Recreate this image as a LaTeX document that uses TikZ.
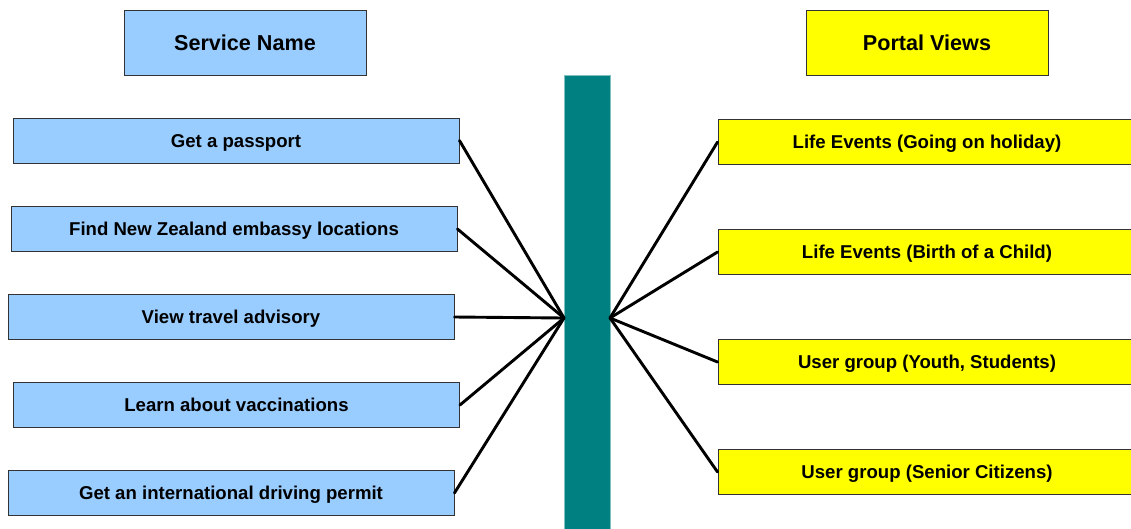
\documentclass[tikz,border=0pt]{standalone}
\usepackage{fontspec}
\setmainfont{Liberation Sans}
\definecolor{svcblue}{HTML}{99CCFF}
\definecolor{portyel}{HTML}{FFFF00}
\definecolor{barteal}{HTML}{008080}
\definecolor{bargl}{HTML}{80C0C0}
\begin{document}
\begin{tikzpicture}[x=1pt,y=-1pt,
  box/.style={draw=black!80,line width=0.9pt,inner sep=0pt,minimum height=45pt,text height=13.3pt,text depth=0pt,font=\fontsize{18.6}{20}\selectfont\bfseries},
  svc/.style={box,fill=svcblue,minimum width=446pt},
  port/.style={box,fill=portyel,minimum width=418pt},
  head/.style={draw=black!80,line width=0.9pt,inner sep=0pt,minimum width=242pt,minimum height=65pt,text height=15.5pt,text depth=0pt,font=\fontsize{21.6}{24}\selectfont\bfseries},
  link/.style={line width=2.9pt,black,line cap=round}]
\useasboundingbox (0,0) rectangle (1131,528);
\node[head,fill=svcblue] (hs) at (245,42.5) {Service Name};
\node[head,fill=portyel] (hp) at (927,42.5) {Portal Views};
\fill[barteal] (564,75) rectangle (610,530);
\draw[bargl,line width=0.6pt] (564,530) -- (564,75) -- (610,75) -- (610,530);
\coordinate (hubL) at (564,318);
\coordinate (hubR) at (610,318);
\node[svc] (s1) at (236,140.5) {Get a passport};
\node[svc] (s2) at (234,229) {Find New Zealand embassy locations};
\node[svc] (s3) at (231,317) {View travel advisory};
\node[svc] (s4) at (236.5,405) {Learn about vaccinations};
\node[svc] (s5) at (231,493) {Get an international driving permit};
\node[port] (p1) at (927,142) {Life Events (Going on holiday)};
\node[port] (p2) at (927,252) {Life Events (Birth of a Child)};
\node[port] (p3) at (927,362) {User group (Youth, Students)};
\node[port] (p4) at (927,472) {User group (Senior Citizens)};
\foreach \n in {s1,s2,s3,s4,s5} \draw[link] (\n.east) -- (hubL);
\foreach \n in {p1,p2,p3,p4} \draw[link] (\n.west) -- (hubR);
\end{tikzpicture}
\end{document}
